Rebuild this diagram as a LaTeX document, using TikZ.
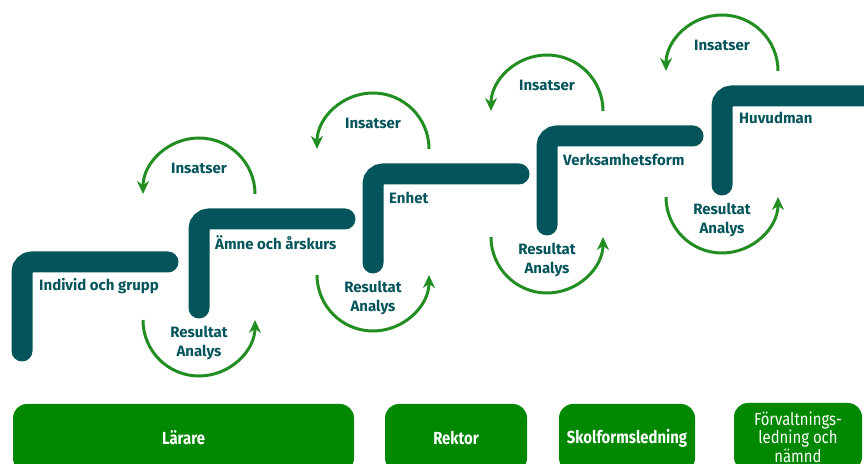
\documentclass[tikz,border=0pt]{standalone}
\usepackage{fontspec}
\setmainfont{Fira Sans}
\newfontfamily\condfont[FakeStretch=0.85]{Fira Sans}
\usetikzlibrary{arrows.meta}
\definecolor{stepteal}{RGB}{3,84,91}
\definecolor{turngreen}{RGB}{34,142,34}
\definecolor{rolegreen}{RGB}{0,136,0}

\tikzset{
  stair/.style={draw=stepteal,line width=21pt,line cap=round,rounded corners=10pt},
  turn/.style={draw=turngreen,line width=3pt,-{Stealth[length=13pt,width=12pt]}},
  rolebox/.style={fill=rolegreen,rounded corners=14pt,text=white,align=center,
    minimum height=68pt,font=\condfont\bfseries\fontsize{17.5}{18.5}\selectfont}
}
\tikzstyle{every node}=[color=stepteal,inner sep=0pt,font=\bfseries\fontsize{15}{19}\selectfont]

\begin{document}
\begin{tikzpicture}[x=1pt,y=1pt]
    \useasboundingbox (0,0) rectangle (864,463);
    \clip (0,0) rectangle (864,463);
    % stair corners
    \coordinate (s1) at (22,201);
    \coordinate (s2) at (199,244);
    \coordinate (s3) at (373,289);
    \coordinate (s4) at (547,327);
    \coordinate (s5) at (722,367);
    % stairs
    \draw [stair] ([yshift=-89pt]s1) -- (s1) -- ([xshift=146pt]s1);
    \draw [stair] ([yshift=-89pt]s2) -- (s2) -- ([xshift=146pt]s2);
    \draw [stair] ([yshift=-89pt]s3) -- (s3) -- ([xshift=146pt]s3);
    \draw [stair] ([yshift=-89pt]s4) -- (s4) -- ([xshift=146pt]s4);
    \draw [stair] ([yshift=-89pt]s5) -- (s5) -- ([xshift=200pt]s5);
    \node [anchor=west] (individ) at ([shift={(17,-24)}]s1) {Individ och grupp};
    \node [anchor=west] (amne) at ([shift={(16,-24)}]s2) {Ämne och årskurs};
    \node [anchor=west] (enhet) at ([shift={(16,-24)}]s3) {Enhet};
    \node [anchor=west] (verksamhet) at ([shift={(16,-24)}]s4) {Verksamhetsform};
    \node [anchor=west] (huvudman) at ([shift={(17,-22)}]s5) {Huvudman};
    % lower loops
    \draw [turn] ([shift={(-56,-101)}]s2) arc[start angle=180,end angle=360,radius=56];
    \draw [turn] ([shift={(-56,-101)}]s3) arc[start angle=180,end angle=360,radius=56];
    \draw [turn] ([shift={(-56,-101)}]s4) arc[start angle=180,end angle=360,radius=56];
    \draw [turn] ([shift={(-56,-101)}]s5) arc[start angle=180,end angle=360,radius=56];
    \node [align=center] (res2) at ([yshift=-124pt]s2) {Resultat\\Analys};
    \node [align=center] (res3) at ([yshift=-124pt]s3) {Resultat\\Analys};
    \node [align=center] (res4) at ([yshift=-124pt]s4) {Resultat\\Analys};
    \node [align=center] (res5) at ([yshift=-124pt]s5) {Resultat\\Analys};
    % upper loops
    \draw [turn] ([shift={(56,25)}]s2) arc[start angle=0,end angle=180,radius=56];
    \draw [turn] ([shift={(56,25)}]s3) arc[start angle=0,end angle=180,radius=56];
    \draw [turn] ([shift={(56,25)}]s4) arc[start angle=0,end angle=180,radius=56];
    \draw [turn] ([shift={(56,25)}]s5) arc[start angle=0,end angle=180,radius=56];
    \node (ins2) at ([yshift=51pt]s2) {Insatser};
    \node (ins3) at ([yshift=51pt]s3) {Insatser};
    \node (ins4) at ([yshift=51pt]s4) {Insatser};
    \node (ins5) at ([yshift=51pt]s5) {Insatser};
    % roles
    \node [rolebox,minimum width=341pt] (larare) at (183.5,25) {Lärare};
    \node [rolebox,minimum width=142pt] (rektor) at (456,25) {Rektor};
    \node [rolebox,minimum width=136pt] (skolform) at (627,25) {Skolformsledning};
    \node [rolebox,minimum width=128pt,font=\condfont\fontsize{17.5}{18.5}\selectfont] (forvaltning) at (798,26) {Förvaltnings-\\ledning och\\nämnd};
\end{tikzpicture}
\end{document}
